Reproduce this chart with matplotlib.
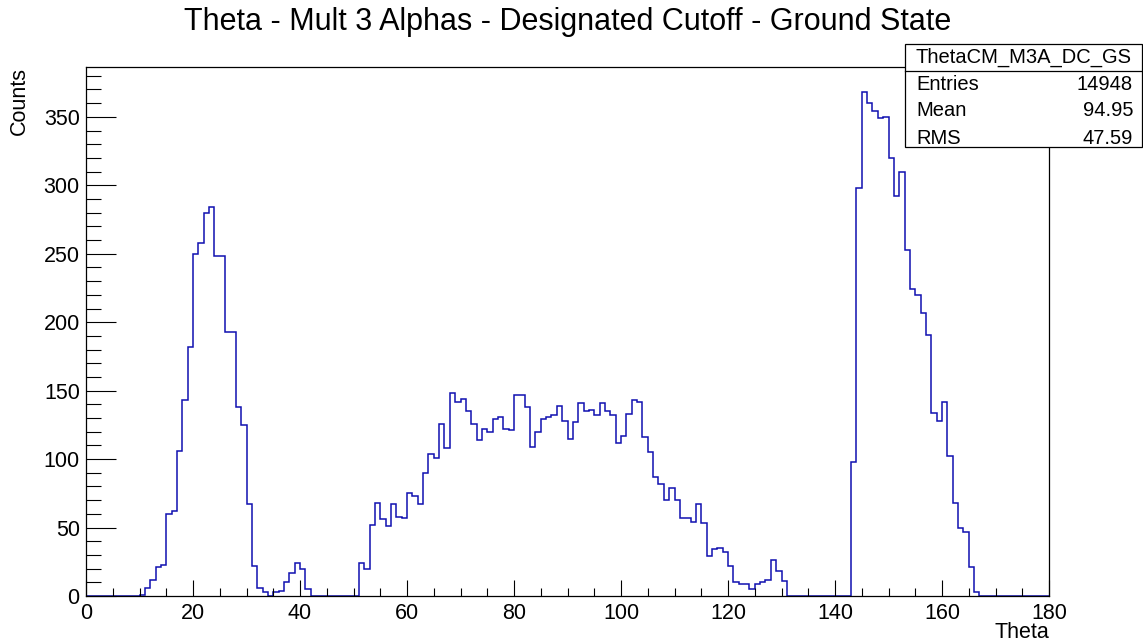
import numpy as np
import matplotlib
matplotlib.use("Agg")
import matplotlib.pyplot as plt
from matplotlib.patches import Rectangle
from matplotlib.lines import Line2D
from matplotlib.ticker import MultipleLocator

plt.rcParams["font.family"] = ["Liberation Sans", "DejaVu Sans"]

# 1-degree bins from 0 to 180
bin_edges = np.arange(0, 181, 1)
counts = [
    0, 0, 0, 0, 0, 0, 0, 0, 0, 0,                          # 0-9
    1, 6, 12, 21, 23, 60, 62, 106, 143, 182,               # 10-19
    250, 258, 280, 284, 248, 248, 193, 193, 138, 125,      # 20-29
    67, 22, 6, 3, 0, 3, 4, 10, 17, 24,                     # 30-39
    20, 5, 0, 0, 0, 0, 0, 0, 0, 0,                         # 40-49
    0, 24, 20, 52, 68, 56, 51, 67, 58, 57,                 # 50-59
    75, 73, 67, 90, 104, 101, 126, 108, 148, 142,          # 60-69
    144, 135, 126, 114, 122, 120, 129, 131, 122, 121,      # 70-79
    147, 147, 138, 109, 120, 129, 131, 132, 139, 128,      # 80-89
    115, 127, 141, 135, 136, 132, 141, 135, 132, 112,      # 90-99
    117, 133, 143, 142, 116, 105, 87, 82, 70, 79,          # 100-109
    70, 57, 57, 54, 67, 53, 29, 34, 35, 32,                # 110-119
    22, 10, 9, 9, 5, 9, 10, 12, 26, 18,                    # 120-129
    11, 0, 0, 0, 0, 0, 0, 0, 0, 0,                         # 130-139
    0, 0, 0, 98, 298, 368, 360, 354, 349, 350,             # 140-149
    320, 292, 310, 253, 224, 220, 207, 191, 134, 128,      # 150-159
    142, 102, 68, 50, 47, 21, 3, 0, 0, 0,                  # 160-169
    0, 0, 0, 0, 0, 0, 0, 0, 0, 0,                          # 170-179
]

hist_name = "ThetaCM_M3A_DC_GS"
stat_labels = ["Entries", "Mean", "RMS"]
stat_values = ["14948", "94.95", "47.59"]

W, H = 1143, 644
fig = plt.figure(figsize=(W / 100, H / 100), dpi=100)
fig.patch.set_facecolor("white")


def fx(px):
    return px / W


def fy(py):
    return 1 - py / H


# axes frame: x 86..1049 px, y 67..596 px
ax = fig.add_axes([fx(86), fy(596), fx(1049) - fx(86), fy(67) - fy(596)])

ax.stairs(counts, bin_edges, color="#1010b0", linewidth=1.1, baseline=0)

ax.set_xlim(0, 180)
ax.set_ylim(0, max(counts) * 1.05)

ax.xaxis.set_major_locator(MultipleLocator(20))
ax.xaxis.set_minor_locator(MultipleLocator(5))
ax.yaxis.set_major_locator(MultipleLocator(50))
ax.yaxis.set_minor_locator(MultipleLocator(10))

ax.tick_params(axis="x", which="major", direction="in", length=11.5, width=0.8,
               labelsize=15.5, pad=5, top=False)
ax.tick_params(axis="x", which="minor", direction="in", length=5.8, width=0.8, top=False)
ax.tick_params(axis="y", which="major", direction="in", length=21.5, width=0.8,
               labelsize=15.5, pad=4.5, right=False)
ax.tick_params(axis="y", which="minor", direction="in", length=10.8, width=0.8, right=False)

for sp in ax.spines.values():
    sp.set_linewidth(0.9)
    sp.set_color("black")

# axis titles, ROOT style (aligned to the axis ends)
fig.text(fx(1049), fy(633), "Theta", ha="right", va="center", fontsize=15.5)
fig.text(fx(19), fy(67), "Counts", ha="center", va="top", rotation=90, fontsize=15.5)

fig.text(fx(568), fy(22), "Theta - Mult 3 Alphas - Designated Cutoff - Ground State",
         ha="center", va="center", fontsize=22)

# stats box
bx0, bx1, by0, by1 = 905, 1142, 44, 147
box = Rectangle((fx(bx0), fy(by1)), fx(bx1) - fx(bx0), fy(by0) - fy(by1),
                transform=fig.transFigure, facecolor="white", edgecolor="black",
                linewidth=0.9, zorder=10)
fig.add_artist(box)
fig.add_artist(Line2D([fx(bx0), fx(bx1)], [fy(71), fy(71)], transform=fig.transFigure,
                      color="black", linewidth=0.9, zorder=11))
fig.text(fx((bx0 + bx1) / 2), fy(57), hist_name, ha="center", va="center",
         fontsize=14.5, zorder=12)
for i, (lab, val) in enumerate(zip(stat_labels, stat_values)):
    yy = fy(84 + 27 * i)
    fig.text(fx(916), yy, lab, ha="left", va="center", fontsize=14.5, zorder=12)
    fig.text(fx(1133), yy, val, ha="right", va="center", fontsize=14.5, zorder=12)

fig.savefig("out.png", dpi=100)
